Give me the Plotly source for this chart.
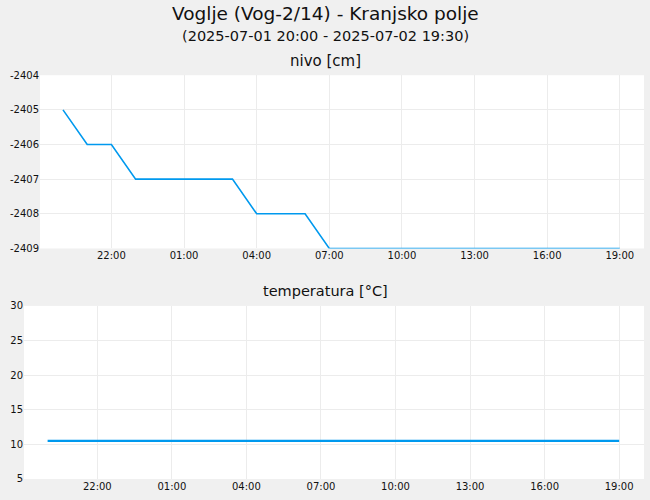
import plotly.graph_objects as go

# hourly readings, 2025-07-01 20:00 .. 2025-07-02 19:00
times = [
    "2025-07-01 20:00", "2025-07-01 21:00", "2025-07-01 22:00", "2025-07-01 23:00",
    "2025-07-02 00:00", "2025-07-02 01:00", "2025-07-02 02:00", "2025-07-02 03:00",
    "2025-07-02 04:00", "2025-07-02 05:00", "2025-07-02 06:00", "2025-07-02 07:00",
    "2025-07-02 08:00", "2025-07-02 09:00", "2025-07-02 10:00", "2025-07-02 11:00",
    "2025-07-02 12:00", "2025-07-02 13:00", "2025-07-02 14:00", "2025-07-02 15:00",
    "2025-07-02 16:00", "2025-07-02 17:00", "2025-07-02 18:00", "2025-07-02 19:00",
]
nivo = [
    -2405, -2406, -2406, -2407,
    -2407, -2407, -2407, -2407,
    -2408, -2408, -2408, -2409,
    -2409, -2409, -2409, -2409,
    -2409, -2409, -2409, -2409,
    -2409, -2409, -2409, -2409,
]
temperatura = [10.5] * 24

nivo_ticks = [-2409, -2408, -2407, -2406, -2405, -2404]
nivo_tick_labels = ["-2409", "-2408", "-2407", "-2406", "-2405", "-2404"]
temp_ticks = [5, 10, 15, 20, 25, 30]

title = "Voglje (Vog-2/14) - Kranjsko polje"
subtitle = "(2025-07-01 20:00 - 2025-07-02 19:30)"
x_range = ["2025-07-01 19:03", "2025-07-02 20:00"]

line_color = "#0099ee"
font_main = "DejaVu Sans"

fig = go.Figure()
fig.add_trace(go.Scatter(
    x=times, y=nivo, mode="lines",
    line=dict(color=line_color, width=1.6),
    xaxis="x", yaxis="y", hoverinfo="skip"
))
fig.add_trace(go.Scatter(
    x=times, y=temperatura, mode="lines",
    line=dict(color=line_color, width=2.2),
    xaxis="x2", yaxis="y2", hoverinfo="skip"
))

xcommon = dict(
    type="date", range=x_range, tick0="2025-07-01 22:00", dtick=3 * 3600 * 1000,
    tickformat="%H:%M", showgrid=True, gridcolor="#ececec", zeroline=False,
    showline=False, ticks="", tickfont=dict(family=font_main, size=10, color="#111"),
)
ycommon = dict(
    showgrid=True, gridcolor="#ececec", zeroline=False, showline=False, ticks="",
    tickfont=dict(family=font_main, size=10, color="#111"),
)

H = 500
fig.update_layout(
    width=650, height=H,
    margin=dict(l=0, r=0, t=0, b=0),
    paper_bgcolor="#f0f0f0", plot_bgcolor="white",
    showlegend=False,
    xaxis=dict(xcommon, domain=[40 / 650, 644 / 650], anchor="y"),
    yaxis=dict(ycommon, domain=[1 - 248.4 / H, 1 - 70.9 / H], range=[-2409, -2404],
               tickvals=nivo_ticks, ticktext=nivo_tick_labels, anchor="x"),
    xaxis2=dict(xcommon, domain=[24 / 650, 644 / 650], anchor="y2"),
    yaxis2=dict(ycommon, domain=[1 - 484.6 / H, 1 - 307.3 / H], range=[5, 30],
                tickvals=temp_ticks, anchor="x2"),
)

texts = [
    (title, 18.5, 8),
    (subtitle, 14.5, 30.5),
    ("nivo [cm]", 15, 56.5),
    ("temperatura [°C]", 14.5, 292.5),
]
for txt, size, ypix in texts:
    fig.add_annotation(
        text=txt, x=0.5, y=1 - ypix / H, xref="paper", yref="paper",
        xanchor="center", yanchor="middle", showarrow=False,
        font=dict(family=font_main, size=size, color="#111"),
    )

# page sits flush in the 650x500 window
page_css = (
    "document.documentElement.style.margin='0';"
    "document.documentElement.style.overflow='hidden';"
    "document.body.style.margin='0';"
    "document.body.style.padding='0';"
    "document.body.style.overflow='hidden';"
)
fig.write_html("out.html", config={"displayModeBar": False}, post_script=page_css)
